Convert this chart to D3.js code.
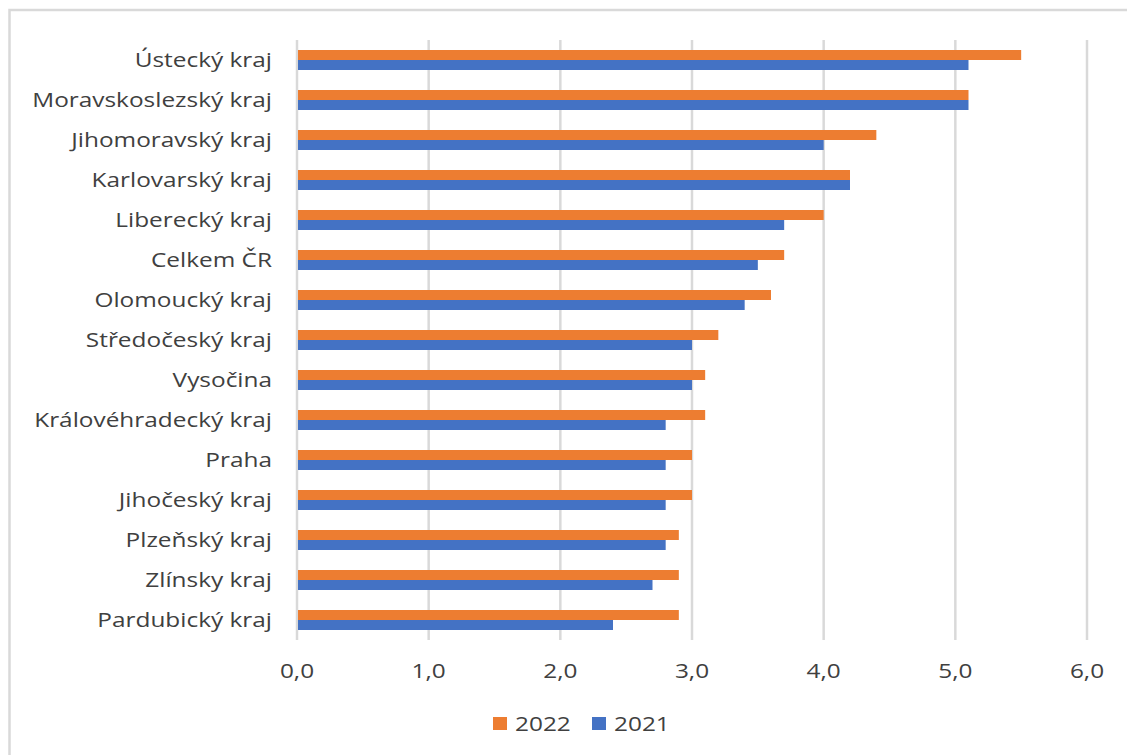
<!DOCTYPE html>
<html>
<head>
<meta charset="utf-8">
<script src="https://cdn.jsdelivr.net/npm/d3@7/dist/d3.min.js"></script>
<style>
  html, body { margin: 0; padding: 0; background: #fff; }
  svg { display: block; }
  text { font-family: "Open Sans", "Noto Sans", sans-serif; fill: #404040; }
</style>
</head>
<body>
<svg id="chart" width="1127" height="755"></svg>
<script>
const categories = ["Ústecký kraj", "Moravskoslezský kraj", "Jihomoravský kraj", "Karlovarský kraj",
  "Liberecký kraj", "Celkem ČR", "Olomoucký kraj", "Středočeský kraj", "Vysočina",
  "Královéhradecký kraj", "Praha", "Jihočeský kraj", "Plzeňský kraj", "Zlínsky kraj", "Pardubický kraj"];
const values2022 = [5.5, 5.1, 4.4, 4.2, 4.0, 3.7, 3.6, 3.2, 3.1, 3.1, 3.0, 3.0, 2.9, 2.9, 2.9];
const values2021 = [5.1, 5.1, 4.0, 4.2, 3.7, 3.5, 3.4, 3.0, 3.0, 2.8, 2.8, 2.8, 2.8, 2.7, 2.4];
const seriesNames = ["2022", "2021"];
const tickValues = [0, 1, 2, 3, 4, 5, 6];

const colors = {"2022": "#ED7D31", "2021": "#4472C4"};
const fontSize = "20px";
const stretch = 1.22;
const svg = d3.select("#chart");

// chart border
svg.append("rect").attr("x", 9.5).attr("y", 10).attr("width", 1140).attr("height", 760)
  .attr("fill", "none").attr("stroke", "#d9d9d9").attr("stroke-width", 2.5);

const plotLeft = 297, plotRight = 1087, plotTop = 40, plotBottom = 640;
const x = d3.scaleLinear().domain([0, 6]).range([plotLeft, plotRight]);
const y = d3.scaleBand().domain(categories).range([plotTop, plotBottom]).paddingInner(0.5).paddingOuter(0.25);
const sub = d3.scaleBand().domain(seriesNames).range([0, y.bandwidth()]);

// gridlines
svg.append("g").selectAll("line").data(tickValues).join("line")
  .attr("x1", d => x(d)).attr("x2", d => x(d))
  .attr("y1", plotTop).attr("y2", plotBottom)
  .attr("stroke", "#d9d9d9").attr("stroke-width", 2.5);

// bars
const data = categories.map((c, i) => ({cat: c, "2022": values2022[i], "2021": values2021[i]}));
const rows = svg.append("g").selectAll("g").data(data).join("g")
  .attr("transform", d => `translate(0,${y(d.cat)})`);
rows.selectAll("rect").data(d => seriesNames.map(s => ({s, v: d[s]}))).join("rect")
  .attr("x", x(0) + 1)
  .attr("y", d => sub(d.s))
  .attr("width", d => x(d.v) - x(0) - 1)
  .attr("height", sub.bandwidth())
  .attr("fill", d => colors[d.s]);

// category labels
svg.append("g").selectAll("text").data(categories).join("text")
  .attr("transform", d => `translate(272,${y(d) + y.bandwidth() / 2}) scale(${stretch},1)`)
  .attr("dy", "0.35em").attr("text-anchor", "end")
  .attr("font-size", fontSize).text(d => d);

// x axis tick labels
const fmt = d => d3.format(".1f")(d).replace(".", ",");
svg.append("g").selectAll("text").data(tickValues).join("text")
  .attr("transform", d => `translate(${x(d)},671) scale(${stretch},1)`).attr("dy", "0.35em")
  .attr("text-anchor", "middle").attr("font-size", fontSize).text(fmt);

// legend
const legend = svg.append("g").selectAll("g").data(seriesNames).join("g")
  .attr("transform", (d, i) => `translate(${493 + i * 99},717)`);
legend.append("rect").attr("width", 14).attr("height", 13).attr("fill", d => colors[d]);
legend.append("text").attr("transform", `translate(22,6.5) scale(${stretch},1)`).attr("dy", "0.35em")
  .attr("font-size", fontSize).text(d => d);
</script>
</body>
</html>
